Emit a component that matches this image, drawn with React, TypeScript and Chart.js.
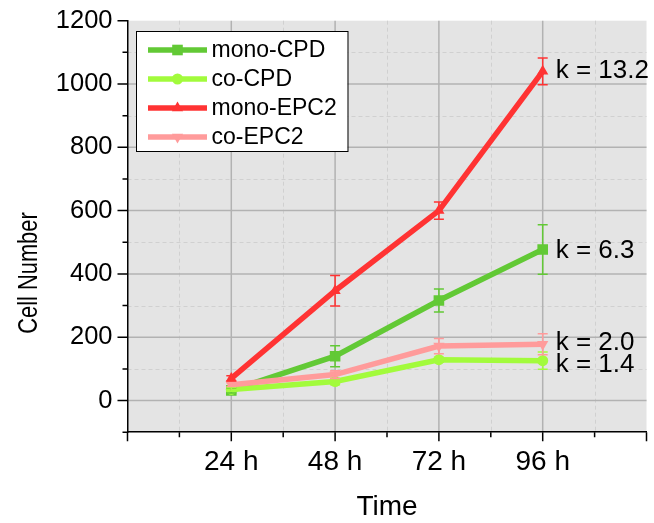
import React, { useEffect, useRef } from 'react';
import { Chart, registerables } from 'chart.js';

Chart.register(...registerables);

// ---------- data ----------
const timePoints = [24, 48, 72, 96];
const xTickLabels = ['24 h', '48 h', '72 h', '96 h'];
const seriesNames = ['mono-CPD', 'co-CPD', 'mono-EPC2', 'co-EPC2'];

const monoCPD = [32, 140, 316, 477];
const monoCPDErr = [8, 33, 36, 78];
const coCPD = [35, 60, 129, 126];
const coCPDErr = [6, 10, 8, 27];
const monoEPC2 = [70, 347, 600, 1040];
const monoEPC2Err = [8, 48, 27, 42];
const coEPC2 = [50, 82, 172, 178];
const coEPC2Err = [6, 12, 24, 33];

const rateLabels = ['k = 6.3', 'k = 1.4', 'k = 13.2', 'k = 2.0'];
const rateLabelValues = [475, 115, 1044, 186];

const yTickValues = [0, 200, 400, 600, 800, 1000, 1200];
const yAxisTitle = 'Cell Number';
const xAxisTitle = 'Time';

// ---------- styles ----------
const FONT = '"Liberation Sans", Arial, sans-serif';
const colors = ['#62c935', '#a2fb3c', '#ff3333', '#ff9b9b'];
const pointStyles = ['rect', 'circle', 'triangle', 'triangle'];
const pointRotations = [0, 0, 0, 180];
const pointRadii = [7.5, 5.5, 6.5, 6.5];

const seriesValues = [monoCPD, coCPD, monoEPC2, coEPC2];
const seriesErrors = [monoCPDErr, coCPDErr, monoEPC2Err, coEPC2Err];

const X_MIN = 0;
const X_MAX = 120;
const Y_MIN = -100;
const Y_MAX = 1200;

function drawMarker(ctx: CanvasRenderingContext2D, style: string, rot: number, x: number, y: number, r: number, color: string) {
  ctx.save();
  ctx.fillStyle = color;
  ctx.beginPath();
  if (style === 'rect') {
    const s = r / Math.SQRT2;
    ctx.rect(x - s, y - s, 2 * s, 2 * s);
  } else if (style === 'circle') {
    ctx.arc(x, y, r, 0, Math.PI * 2);
  } else {
    const dir = rot === 180 ? -1 : 1;
    const half = (r * Math.sqrt(3)) / 2;
    ctx.moveTo(x, y - dir * r);
    ctx.lineTo(x - half, y + dir * r / 2);
    ctx.lineTo(x + half, y + dir * r / 2);
    ctx.closePath();
  }
  ctx.fill();
  ctx.restore();
}

const backgroundPlugin = {
  id: 'bgGrid',
  beforeDraw(chart: any) {
    const { ctx, chartArea: ca, scales } = chart;
    const x = scales.x;
    const y = scales.y;
    ctx.save();
    ctx.fillStyle = '#e4e4e4';
    ctx.fillRect(ca.left, ca.top, ca.right - ca.left, ca.bottom - ca.top);

    // minor dashed grid
    ctx.strokeStyle = '#d0d0d0';
    ctx.lineWidth = 1;
    ctx.setLineDash([4, 3]);
    ctx.beginPath();
    for (let v = X_MIN + 12; v < X_MAX; v += 24) {
      const px = Math.round(x.getPixelForValue(v)) + 0.5;
      ctx.moveTo(px, ca.top);
      ctx.lineTo(px, ca.bottom);
    }
    for (let v = Y_MIN + 200; v < Y_MAX; v += 200) {
      const py = Math.round(y.getPixelForValue(v)) + 0.5;
      ctx.moveTo(ca.left, py);
      ctx.lineTo(ca.right, py);
    }
    ctx.stroke();

    // major solid grid
    ctx.setLineDash([]);
    ctx.strokeStyle = '#b2b2b2';
    ctx.lineWidth = 1.5;
    ctx.beginPath();
    for (let v = X_MIN + 24; v < X_MAX; v += 24) {
      const px = x.getPixelForValue(v);
      ctx.moveTo(px, ca.top);
      ctx.lineTo(px, ca.bottom);
    }
    for (let v = 0; v < Y_MAX; v += 200) {
      const py = y.getPixelForValue(v);
      ctx.moveTo(ca.left, py);
      ctx.lineTo(ca.right, py);
    }
    ctx.stroke();
    ctx.restore();
  },
  afterDraw(chart: any) {
    const { ctx, chartArea: ca, scales } = chart;
    const x = scales.x;
    const y = scales.y;
    ctx.save();
    // tick marks
    ctx.strokeStyle = '#000';
    ctx.lineWidth = 1.5;
    ctx.beginPath();
    for (let v = Y_MIN; v <= Y_MAX; v += 100) {
      const py = y.getPixelForValue(v);
      const len = v % 200 === 0 ? 10 : 5;
      ctx.moveTo(ca.left, py);
      ctx.lineTo(ca.left - len, py);
    }
    for (let v = X_MIN; v <= X_MAX; v += 12) {
      const px = x.getPixelForValue(v);
      const len = v % 24 === 0 ? 9 : 5;
      ctx.moveTo(px, ca.bottom);
      ctx.lineTo(px, ca.bottom + len);
    }
    ctx.stroke();

    // y axis title
    ctx.save();
    ctx.translate(29, 273);
    ctx.rotate(-Math.PI / 2);
    ctx.fillStyle = '#000';
    ctx.font = `26px ${FONT}`;
    ctx.textAlign = 'center';
    ctx.textBaseline = 'middle';
    ctx.scale(0.84, 1.05);
    ctx.fillText(yAxisTitle, 0, 0);
    ctx.restore();

    // legend box
    const bx = 136, by = 31, bw = 211.5, bh = 120;
    ctx.fillStyle = '#ffffff';
    ctx.fillRect(bx, by, bw, bh);
    ctx.strokeStyle = '#000';
    ctx.lineWidth = 1;
    ctx.strokeRect(bx + 0.5, by + 0.5, bw, bh);
    ctx.font = `23px ${FONT}`;
    ctx.textBaseline = 'middle';
    ctx.textAlign = 'left';
    seriesNames.forEach((name, i) => {
      const ry = 50 + i * 29;
      ctx.strokeStyle = colors[i];
      ctx.lineWidth = 5.5;
      ctx.beginPath();
      ctx.moveTo(148, ry);
      ctx.lineTo(207, ry);
      ctx.stroke();
      drawMarker(ctx, pointStyles[i], pointRotations[i], 177.5, ry, pointRadii[i], colors[i]);
      ctx.fillStyle = '#000';
      ctx.fillText(name, 211.5, ry + 1);
    });
    ctx.restore();
  },
  afterDatasetsDraw(chart: any) {
    const { ctx, scales } = chart;
    const x = scales.x;
    const y = scales.y;
    ctx.save();
    // error bars
    seriesErrors.forEach((errs, di) => {
      const meta = chart.getDatasetMeta(di);
      ctx.strokeStyle = colors[di];
      ctx.lineWidth = 1.5;
      ctx.beginPath();
      meta.data.forEach((pt: any, i: number) => {
        const v = seriesValues[di][i];
        const e = errs[i];
        const top = y.getPixelForValue(v + e);
        const bot = y.getPixelForValue(v - e);
        ctx.moveTo(pt.x, top);
        ctx.lineTo(pt.x, bot);
        ctx.moveTo(pt.x - 5, top);
        ctx.lineTo(pt.x + 5, top);
        ctx.moveTo(pt.x - 5, bot);
        ctx.lineTo(pt.x + 5, bot);
      });
      ctx.stroke();
    });
    // rate labels
    ctx.fillStyle = '#000';
    ctx.font = `26px ${FONT}`;
    ctx.textBaseline = 'middle';
    ctx.textAlign = 'left';
    const lastX = x.getPixelForValue(timePoints[timePoints.length - 1]);
    rateLabels.forEach((t, i) => {
      ctx.fillText(t, lastX + 13, y.getPixelForValue(rateLabelValues[i]) + 1);
    });
    ctx.restore();
  },
};

export default function App() {
  const canvasRef = useRef<HTMLCanvasElement | null>(null);

  useEffect(() => {
    if (!canvasRef.current) return;
    const datasets = seriesNames.map((name, i) => ({
      label: name,
      data: timePoints.map((t, j) => ({ x: t, y: seriesValues[i][j] })),
      borderColor: colors[i],
      backgroundColor: colors[i],
      borderWidth: 5.5,
      pointStyle: pointStyles[i],
      pointRotation: pointRotations[i],
      pointRadius: pointRadii[i],
      pointBorderWidth: 0,
      pointBackgroundColor: colors[i],
      tension: 0,
      order: seriesNames.length - i,
    }));

    const chart = new Chart(canvasRef.current, {
      type: 'line',
      data: { datasets },
      plugins: [backgroundPlugin],
      options: {
        animation: false,
        responsive: false,
        maintainAspectRatio: false,
        layout: { padding: { top: 20.7, right: 6.3, left: 0, bottom: 0 } },
        plugins: {
          legend: { display: false },
          tooltip: { enabled: false },
        },
        scales: {
          x: {
            type: 'linear',
            min: X_MIN,
            max: X_MAX,
            afterFit: (scale: any) => {
              scale.height = 90.8;
            },
            afterBuildTicks: (scale: any) => {
              const ticks = [];
              for (let v = X_MIN; v <= X_MAX; v += 12) ticks.push({ value: v });
              scale.ticks = ticks;
            },
            ticks: {
              autoSkip: false,
              maxRotation: 0,
              color: '#000',
              padding: 4,
              font: { family: FONT, size: 28 },
              callback: (v: any) => {
                const idx = timePoints.indexOf(Number(v));
                return idx >= 0 ? xTickLabels[idx] : '';
              },
            },
            grid: {
              display: true,
              drawOnChartArea: false,
              drawTicks: true,
              tickLength: 9,
              tickColor: 'rgba(0,0,0,0)',
            },
            border: { display: true, color: '#000', width: 1.5 },
            title: {
              display: true,
              text: xAxisTitle,
              color: '#000',
              font: { family: FONT, size: 28, lineHeight: 1 },
              padding: { top: 0, bottom: 2 },
            },
          },
          y: {
            type: 'linear',
            min: Y_MIN,
            max: Y_MAX,
            afterFit: (scale: any) => {
              scale.width = 127.5;
            },
            afterBuildTicks: (scale: any) => {
              const ticks = [];
              for (let v = Y_MIN; v <= Y_MAX; v += 100) ticks.push({ value: v });
              scale.ticks = ticks;
            },
            ticks: {
              autoSkip: false,
              color: '#000',
              padding: 5,
              font: { family: FONT, size: 25.5 },
              callback: (v: any) => (yTickValues.indexOf(Number(v)) >= 0 ? String(v) : ''),
            },
            grid: {
              display: true,
              drawOnChartArea: false,
              drawTicks: true,
              tickLength: 10,
              tickColor: 'rgba(0,0,0,0)',
            },
            border: { display: true, color: '#000', width: 1.5 },
            title: { display: false },
          },
        },
      },
    } as any);

    return () => chart.destroy();
  }, []);

  return (
    <div style={{ position: 'fixed', left: 0, top: 0, width: 654, height: 523, background: '#fff' }}>
      <canvas ref={canvasRef} width={654} height={523} />
    </div>
  );
}
